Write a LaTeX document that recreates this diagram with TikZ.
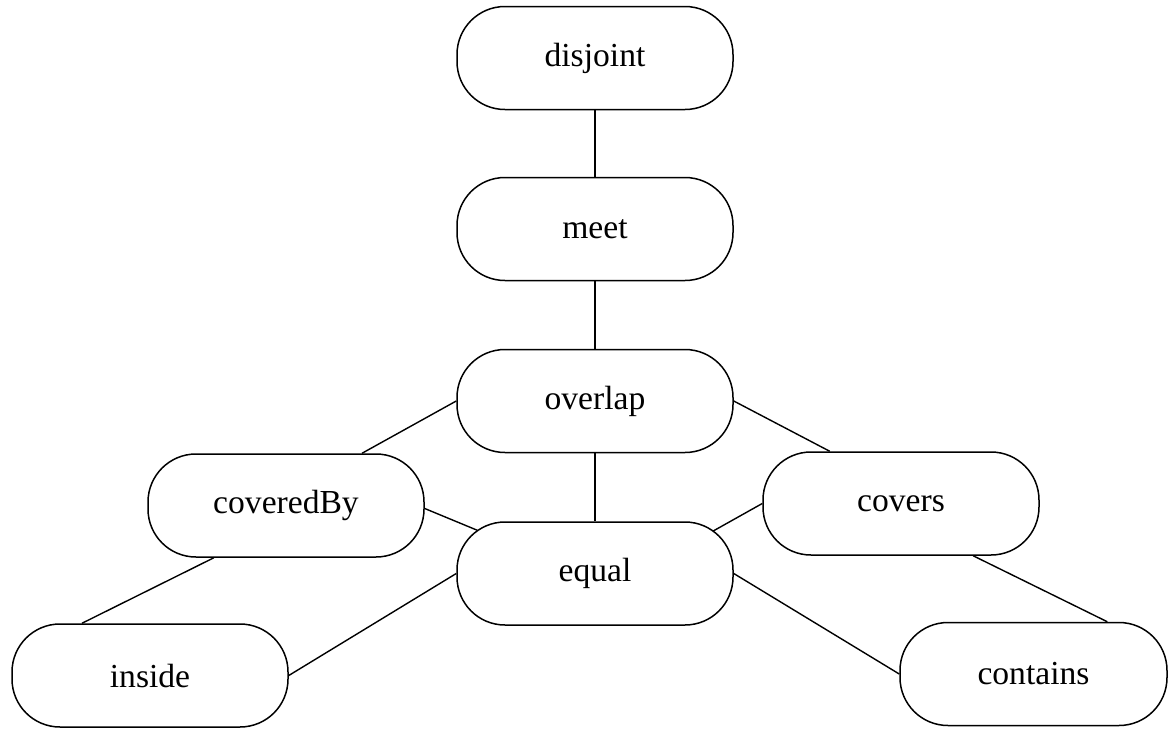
\documentclass[tikz,border=0pt]{standalone}
\usepackage{fontspec}
\setmainfont{Liberation Serif}
\usetikzlibrary{calc}
\begin{document}
\begin{tikzpicture}[x=0.5pt,y=-0.5pt,
  rel/.style={draw, line width=0.75pt, rounded corners=24pt, minimum width=138pt,
    minimum height=51.5pt, inner sep=0pt, font=\fontsize{16.8}{20}\selectfont},
  link/.style={line width=0.7pt}]
\useasboundingbox[fill=white] (0,0) rectangle (1168,729);
\node[rel] (disjoint) at (595,58) {disjoint};
\node[rel] (meet) at (595,229) {meet};
\node[rel] (overlap) at (595,401) {overlap};
\node[rel] (coveredBy) at (286,505.5) {coveredBy};
\node[rel] (equal) at (595,573.5) {equal};
\node[rel] (covers) at (901,503.5) {covers};
\node[rel] (inside) at (150,675.5) {inside};
\node[rel, minimum width=133.5pt] (contains) at (1033.5,674) {contains};
\draw[link] (disjoint.south) -- (meet.north);
\draw[link] (meet.south) -- (overlap.north);
\draw[link] (overlap.south) -- (equal.north);
\draw[link] (overlap.west) -- ($(coveredBy.north west)!0.774!(coveredBy.north east)$);
\draw[link] (overlap.east) -- ($(covers.north west)!0.243!(covers.north east)$);
\draw[link] ($(coveredBy.east)+(0,3)$) -- ($(equal.north west)+(21,9)$);
\draw[link] ($(covers.west)$) -- ($(equal.north east)+(-21,10)$);
\draw[link] ($(coveredBy.south west)!0.24!(coveredBy.south east)$) -- ($(inside.north west)!0.255!(inside.north east)$);
\draw[link] (equal.west) -- (inside.east);
\draw[link] (equal.east) -- (contains.west);
\draw[link] ($(covers.south west)!0.76!(covers.south east)$) -- ($(contains.north west)!0.775!(contains.north east)$);
\end{tikzpicture}
\end{document}
